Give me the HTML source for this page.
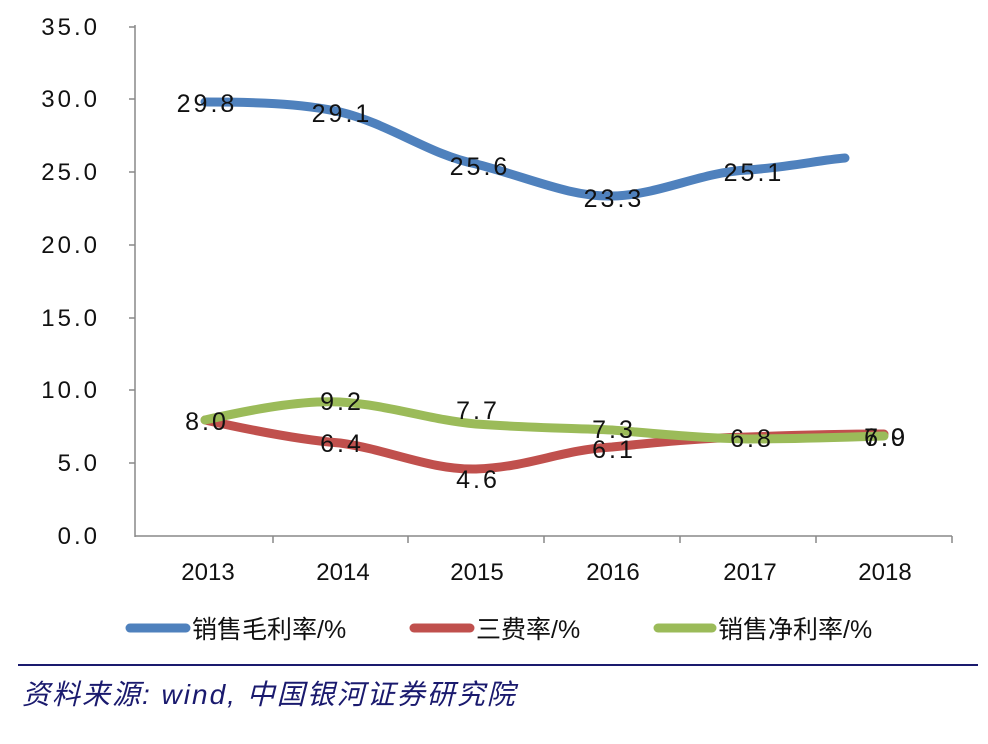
<!DOCTYPE html>
<html><head><meta charset="utf-8"><style>
body{margin:0;background:#fff;}
svg text{font-family:"Liberation Sans","Noto Sans CJK SC",sans-serif;}
</style></head><body>
<svg width="988" height="739" xmlns="http://www.w3.org/2000/svg">
<rect width="988" height="739" fill="#fff"/>
<g stroke="#888" stroke-width="1.5">
<line x1="135" y1="25" x2="135" y2="537"/>
<line x1="135" y1="536" x2="952" y2="536"/>
<line x1="129" y1="27" x2="135" y2="27"/><line x1="129" y1="99" x2="135" y2="99"/><line x1="129" y1="172" x2="135" y2="172"/><line x1="129" y1="245" x2="135" y2="245"/><line x1="129" y1="318" x2="135" y2="318"/><line x1="129" y1="390" x2="135" y2="390"/><line x1="129" y1="463" x2="135" y2="463"/>
<line x1="273" y1="536" x2="273" y2="543"/><line x1="408" y1="536" x2="408" y2="543"/><line x1="544" y1="536" x2="544" y2="543"/><line x1="680" y1="536" x2="680" y2="543"/><line x1="816" y1="536" x2="816" y2="543"/><line x1="952" y1="536" x2="952" y2="543"/>
</g>
<g font-size="24" fill="#111" text-anchor="end" letter-spacing="3">
<text x="100" y="35">35.0</text><text x="100" y="107">30.0</text><text x="100" y="180">25.0</text><text x="100" y="253">20.0</text><text x="100" y="326">15.0</text><text x="100" y="398">10.0</text><text x="100" y="471">5.0</text><text x="100" y="544">0.0</text>
</g>
<g font-size="24" fill="#111" text-anchor="middle">
<text x="208" y="580">2013</text><text x="343" y="580">2014</text><text x="477" y="580">2015</text><text x="613" y="580">2016</text><text x="750" y="580">2017</text><text x="885" y="580">2018</text>
</g>
<g fill="none" stroke-width="9" stroke-linecap="round">
<path stroke="#4f81bd" d="M205,102 C250,102 300,103 340,112 C390,124 430,155 476,164 C530,178 570,197 612,196 C660,195 700,172 748,170 C790,167 820,160 845,158"/>
<path stroke="#c0504d" d="M205,420 C250,430 300,440 340,443 C390,450 430,470 476,469 C530,467 560,450 612,447 C660,442 700,438 748,437 C800,435 850,434 884,434"/>
<path stroke="#9bbb59" d="M205,420 C250,410 300,400 340,402 C390,405 430,420 476,424 C530,428 570,428 612,430 C660,434 700,438 748,439 C800,439 850,437 884,436"/>
</g>
<g font-size="25" fill="#111" text-anchor="middle" letter-spacing="3">
<text x="207" y="112">29.8</text><text x="342" y="122">29.1</text><text x="480" y="175">25.6</text><text x="614" y="207">23.3</text><text x="754" y="181">25.1</text>
<text x="207" y="430">8.0</text><text x="342" y="452">6.4</text><text x="478" y="488">4.6</text><text x="614" y="458">6.1</text><text x="752" y="447">6.8</text><text x="886" y="446">7.0</text>
<text x="342" y="410">9.2</text><text x="478" y="419">7.7</text><text x="614" y="438">7.3</text><text x="886" y="446">6.9</text>
</g>
<g stroke-width="9" stroke-linecap="round">
<line x1="130" y1="628" x2="186" y2="628" stroke="#4f81bd"/>
<line x1="414" y1="628" x2="470" y2="628" stroke="#c0504d"/>
<line x1="658" y1="628" x2="712" y2="628" stroke="#9bbb59"/>
</g>
<g font-size="25" fill="#111">
<text x="192" y="638">销售毛利率/%</text><text x="476" y="638">三费率/%</text><text x="718" y="638">销售净利率/%</text>
</g>
<line x1="18" y1="665" x2="978" y2="665" stroke="#1a1a6e" stroke-width="2"/>
<text x="22" y="704" font-size="28" font-style="italic" fill="#1a1a6e" letter-spacing="2">资料来源: wind, 中国银河证券研究院</text>
</svg>
</body></html>
